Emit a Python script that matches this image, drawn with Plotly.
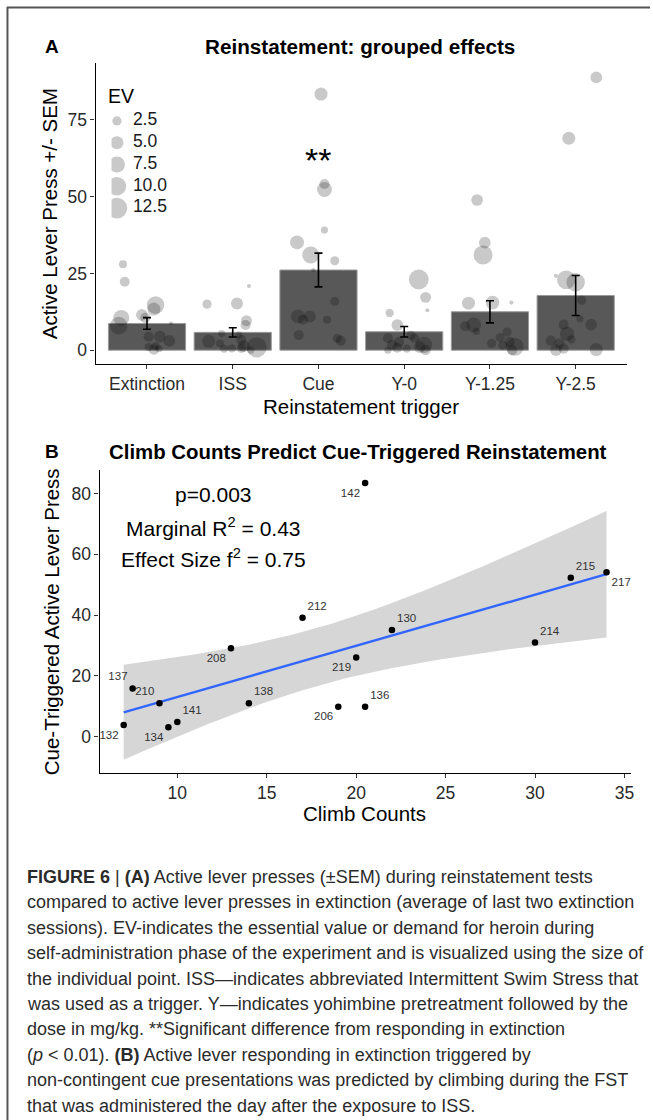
import numpy as np
import plotly.graph_objects as go

W, H = 653, 1120

# ---------------- Panel A data ----------------
categories = ["Extinction", "ISS", "Cue", "Y-0", "Y-1.25", "Y-2.5"]
bar_means = [8.7, 5.8, 26.1, 6.0, 12.5, 17.8]
bar_sem = [1.9, 1.5, 5.5, 1.7, 3.6, 6.5]

ext_press = [28.0, 22.3, 10.5, 8.0, 11.5, 10.5, 14.7, 13.4, 8.7, 4.4, 4.4, 3.0, 1.3, 0.2, 1.0, 0.5]
ext_jitter = [-0.28, -0.26, -0.30, -0.33, -0.06, -0.02, 0.10, 0.08, 0.28, 0.02, 0.15, 0.26, 0.10, 0.08, 0.02, 0.14]
ext_ev = [1.9, 2.9, 7.5, 9.0, 4.0, 3.0, 9.0, 5.0, 0.5, 3.0, 4.0, 4.0, 2.0, 3.0, 2.0, 1.5]

iss_press = [20.9, 15.0, 15.2, 9.6, 8.2, 5.4, 4.9, 2.9, 2.2, 3.4, 1.3, 0.9, 0.6, 0.6, 0.0, 0.5]
iss_jitter = [0.19, -0.30, 0.05, 0.16, 0.15, -0.13, 0.07, -0.28, -0.15, 0.10, 0.13, 0.28, -0.01, 0.10, 0.21, -0.10]
iss_ev = [0.5, 2.5, 4.2, 3.5, 3.0, 1.5, 1.5, 5.0, 2.0, 3.0, 4.0, 11.7, 2.0, 2.5, 1.5, 2.0]

cue_press_a = [83.4, 54.1, 52.3, 39.1, 35.1, 31.0, 29.1, 26.1, 15.9, 11.0, 11.0, 9.9, 9.9, 4.9, 3.85, 3.1]
cue_jitter = [0.03, 0.07, 0.07, 0.07, -0.25, -0.09, 0.19, -0.06, 0.19, -0.24, -0.10, 0.10, -0.18, -0.23, 0.22, 0.26]
cue_ev = [5.0, 3.0, 6.5, 1.5, 5.7, 8.5, 2.4, 0.5, 2.4, 5.7, 4.2, 1.9, 3.0, 3.0, 2.4, 3.0]

y0_press = [23.0, 17.2, 13.0, 12.1, 8.2, 3.9, 1.7, 2.7, 4.8, 3.9, 1.7, 0.0, 0.0, 0.8, 0.5, 1.0]
y0_jitter = [0.17, 0.25, 0.27, -0.17, -0.08, -0.19, -0.14, -0.06, 0.08, 0.12, 0.23, 0.25, -0.19, -0.08, 0.03, 0.18]
y0_ev = [11.5, 3.5, 0.5, 2.0, 4.0, 3.0, 3.0, 3.0, 2.5, 2.5, 8.0, 3.0, 1.5, 3.0, 2.0, 4.0]

y125_press = [48.9, 35.0, 31.0, 15.3, 15.5, 15.5, 7.8, 8.2, 6.1, 2.2, 4.1, 5.9, 2.7, 1.1, 1.6, 0.0]
y125_jitter = [-0.15, -0.06, -0.08, -0.25, 0.03, 0.25, -0.29, -0.19, -0.16, 0.02, 0.12, 0.20, 0.23, 0.29, 0.15, 0.26]
y125_ev = [4.0, 4.0, 10.5, 5.0, 5.5, 0.5, 3.0, 6.5, 1.5, 2.5, 2.5, 2.5, 3.0, 9.5, 2.5, 3.0]

y25_press = [88.8, 69.0, 24.2, 22.9, 22.1, 16.3, 10.2, 8.3, 8.3, 5.3, 3.1, 0.0, 0.5, 0.2, 2.2, 3.5]
y25_jitter = [0.24, -0.08, -0.23, -0.11, 0.0, 0.07, 0.05, 0.18, -0.14, -0.10, -0.29, -0.23, -0.14, 0.24, -0.19, -0.05]
y25_ev = [4.0, 5.0, 0.5, 10.0, 10.0, 2.5, 1.5, 4.0, 3.0, 6.0, 3.0, 4.0, 3.0, 5.0, 3.0, 2.0]

group_press = [ext_press, iss_press, cue_press_a, y0_press, y125_press, y25_press]
group_jitter = [ext_jitter, iss_jitter, cue_jitter, y0_jitter, y125_jitter, y25_jitter]
group_ev = [ext_ev, iss_ev, cue_ev, y0_ev, y125_ev, y25_ev]

ev_legend = [2.5, 5.0, 7.5, 10.0, 12.5]
ev_legend_labels = ["2.5", "5.0", "7.5", "10.0", "12.5"]

# ---------------- Panel B data ----------------
subject_ids = ["132", "137", "210", "134", "141", "208", "138", "212", "206", "219",
               "136", "130", "142", "214", "215", "217"]
climb_counts = [7, 7.5, 9, 9.5, 10, 13, 14, 17, 19, 20, 20.5, 22, 20.5, 30, 32, 34]
cue_press = [3.85, 15.9, 11, 3.1, 4.9, 29.1, 11, 39.1, 9.9, 26.1, 9.9, 35.1, 83.4, 31, 52.3, 54.1]
stats_text = ["p=0.003", "Marginal R<sup>2</sup> = 0.43", "Effect Size f<sup>2</sup> = 0.75"]
stats_y = [79.5, 69.0, 58.8]
stats_x = 12

caption_lines = [
    "<b>FIGURE 6</b> | <b>(A)</b> Active lever presses (±SEM) during reinstatement tests",
    "compared to active lever presses in extinction (average of last two extinction",
    "sessions). EV-indicates the essential value or demand for heroin during",
    "self-administration phase of the experiment and is visualized using the size of",
    "the individual point. ISS\u2014indicates abbreviated Intermittent Swim Stress that",
    "was used as a trigger. Y\u2014indicates yohimbine pretreatment followed by the",
    "dose in mg/kg. **Significant difference from responding in extinction",
    "(<i>p</i> < 0.01). <b>(B)</b> Active lever responding in extinction triggered by",
    "non-contingent cue presentations was predicted by climbing during the FST",
    "that was administered the day after the exposure to ISS.",
]

# label placement (style)
label_pos = ["bottom left", "top left", "top left", "bottom left", "top right", "bottom left",
             "top right", "top right", "bottom left", "bottom left", "top right", "top right",
             "bottom left", "top right", "top right", "bottom right"]

FONT = "Liberation Sans, Arial, sans-serif"


def ev_to_diam(ev):
    return 5.85 * np.sqrt(np.asarray(ev, dtype=float))


def py(px):  # pixel from top -> paper fraction
    return 1 - px / H


def pxf(px):
    return px / W


fig = go.Figure()

# Bars
fig.add_trace(go.Bar(
    x=list(range(len(categories))), y=bar_means, width=0.9,
    marker=dict(color="#585858", line=dict(color="#9a9a9a", width=1)),
    xaxis="x", yaxis="y", showlegend=False, hoverinfo="skip"))

# Jittered points
for i, (p, j, e) in enumerate(zip(group_press, group_jitter, group_ev)):
    fig.add_trace(go.Scatter(
        x=[i + jj for jj in j], y=p, mode="markers",
        marker=dict(color="rgba(0,0,0,0.3)", size=ev_to_diam(e), sizemode="diameter",
                    line=dict(width=0)),
        xaxis="x", yaxis="y", showlegend=False, hoverinfo="skip"))

# Error bars
fig.add_trace(go.Scatter(
    x=list(range(len(categories))), y=bar_means, mode="markers",
    marker=dict(size=1, color="rgba(0,0,0,0)"),
    error_y=dict(type="data", array=bar_sem, color="black", thickness=1.6, width=4),
    xaxis="x", yaxis="y", showlegend=False, hoverinfo="skip"))

# EV legend (drawn on helper axes)
fig.add_trace(go.Scatter(
    x=[0] * len(ev_legend), y=list(range(len(ev_legend))), mode="markers",
    marker=dict(color="rgba(0,0,0,0.3)", size=ev_to_diam(ev_legend), sizemode="diameter",
                line=dict(width=0)),
    xaxis="x3", yaxis="y3", showlegend=False, hoverinfo="skip"))
fig.add_trace(go.Scatter(
    x=[1.6] * len(ev_legend), y=list(range(len(ev_legend))), mode="text",
    text=ev_legend_labels, textposition="middle right",
    textfont=dict(family=FONT, size=17.5, color="#1a1a1a"),
    xaxis="x3", yaxis="y3", showlegend=False, hoverinfo="skip"))

# Panel B: regression with CI band
xc = np.array(climb_counts, dtype=float)
yc = np.array(cue_press, dtype=float)
slope, intercept = np.polyfit(xc, yc, 1)
n = len(xc)
resid = yc - (slope * xc + intercept)
s = np.sqrt(np.sum(resid ** 2) / (n - 2))
t_crit = 2.145  # t(0.975, df=14)
xg = np.linspace(xc.min(), xc.max(), 80)
yg = slope * xg + intercept
se = s * np.sqrt(1 / n + (xg - xc.mean()) ** 2 / np.sum((xc - xc.mean()) ** 2))
lo, hi = yg - t_crit * se, yg + t_crit * se

fig.add_trace(go.Scatter(
    x=np.concatenate([xg, xg[::-1]]), y=np.concatenate([hi, lo[::-1]]),
    fill="toself", fillcolor="#d6d6d6", line=dict(width=0), mode="lines",
    xaxis="x2", yaxis="y2", showlegend=False, hoverinfo="skip"))
fig.add_trace(go.Scatter(
    x=xg, y=yg, mode="lines", line=dict(color="#3366FF", width=2.4),
    xaxis="x2", yaxis="y2", showlegend=False, hoverinfo="skip"))
fig.add_trace(go.Scatter(
    x=climb_counts, y=cue_press, mode="markers+text", text=subject_ids,
    textposition=label_pos,
    textfont=dict(family=FONT, size=11.5, color="#333333"),
    marker=dict(color="black", size=6.5),
    xaxis="x2", yaxis="y2", showlegend=False, hoverinfo="skip"))

axis_common = dict(showgrid=False, zeroline=False, showline=True, linecolor="black",
                   linewidth=1.2, ticks="outside", ticklen=4, tickwidth=1.1,
                   tickcolor="#333333",
                   tickfont=dict(family=FONT, size=17.5, color="#2a2a2a"))

fig.update_layout(
    width=W, height=H, margin=dict(l=0, r=0, t=0, b=0),
    paper_bgcolor="white", plot_bgcolor="white",
    font=dict(family=FONT, color="black"),
    xaxis=dict(domain=[pxf(96), pxf(630)], range=[-0.6, 5.6],
               tickvals=list(range(len(categories))), ticktext=categories,
               anchor="y", **axis_common),
    yaxis=dict(domain=[py(364), py(63)], range=[-4.5, 93.5],
               tickvals=[0, 25, 50, 75], anchor="x", **axis_common),
    xaxis2=dict(domain=[pxf(100), pxf(633.6)], range=[5.65, 35.35],
                tickvals=[10, 15, 20, 25, 30, 35], anchor="y2", **axis_common),
    yaxis2=dict(domain=[py(773), py(470)], range=[-11.9, 87.7],
                tickvals=[0, 20, 40, 60, 80], anchor="x2", **axis_common),
    xaxis3=dict(domain=[pxf(112), pxf(212)], range=[-0.55, 9.45], visible=False,
                anchor="y3"),
    yaxis3=dict(domain=[py(219), py(110)], range=[4.5, -0.5], visible=False,
                anchor="x3"),
)


def A(text, x, y, size, xref="paper", yref="paper", xanchor="center", angle=0,
      color="black"):
    return dict(text=text, x=x, y=y, xref=xref, yref=yref, xanchor=xanchor,
                yanchor="middle", showarrow=False, textangle=angle,
                font=dict(family=FONT, size=size, color=color))


ann = []
ann.append(A("<b>A</b>", pxf(52), py(47), 19))
ann.append(A("<b>Reinstatement: grouped effects</b>", pxf(362), py(47), 20.7))
ann.append(A("<b>B</b>", pxf(52), py(451), 19))
ann.append(A("<b>Climb Counts Predict Cue-Triggered Reinstatement</b>", pxf(360), py(452), 20.4))
ann.append(A("Active Lever Press +/- SEM", pxf(50), py(213.5), 20.5, angle=-90))
ann.append(A("Reinstatement trigger", pxf(363), py(407), 20.5))
ann.append(A("Cue-Triggered Active Lever Press", pxf(52), py(621.5), 20.5, angle=-90))
ann.append(A("Climb Counts", pxf(366), py(813), 20.5))
ann.append(A("EV", pxf(106), py(96), 19.5, xanchor="left"))
ann.append(A("**", 2, 62, 34, xref="x", yref="y"))
for t, yy in zip(stats_text, stats_y):
    ann.append(A(t, stats_x, yy, 21, xref="x2", yref="y2"))
for k, line in enumerate(caption_lines):
    ann.append(A(line, pxf(25), py(877 + 25.4 * k), 18.0, xanchor="left", color="#2b2b2b"))
fig.update_layout(annotations=ann)

# Frame lines (top and left)
fig.update_layout(shapes=[
    dict(type="line", xref="paper", yref="paper", x0=pxf(7), x1=1.0, y0=py(7.5), y1=py(7.5),
         line=dict(color="#555555", width=2)),
    dict(type="line", xref="paper", yref="paper", x0=pxf(7.5), x1=pxf(7.5), y0=py(7), y1=0,
         line=dict(color="#555555", width=2)),
])

fig.write_html("out.html", config={"displayModeBar": False},
               post_script="document.body.style.margin='0';")
